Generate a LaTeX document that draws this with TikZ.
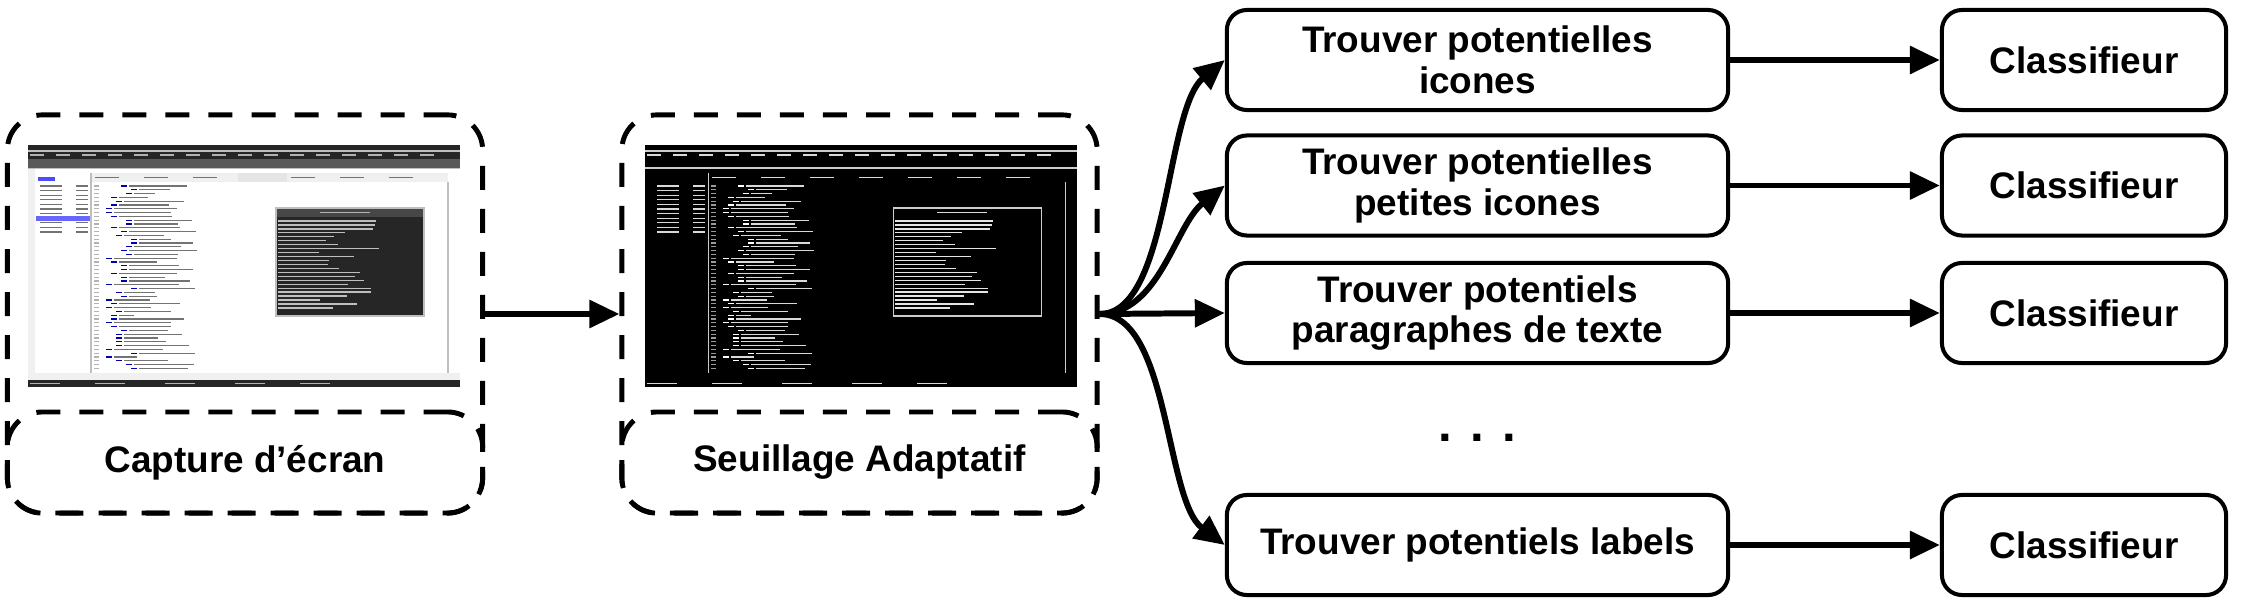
\documentclass[tikz,border=0pt]{standalone}
\usepackage{fontspec}
\setmainfont{Liberation Sans}
\usetikzlibrary{arrows.meta}

\tikzset{
  shotframe/.style={draw, line width=1.4pt, dash pattern=on 0.24cm off 0.19cm, rounded corners=0.35cm, minimum width=4.75cm},
  stepbox/.style={draw, line width=1.15pt, rounded corners=0.2cm, minimum height=1cm, align=center},
  arr/.style={-{Triangle[length=0.3cm,width=0.27cm]}, line width=1.7pt},
}

% screenshot mock-up, colours set with \colorlet before each call
\newcommand\mockscreen{%
  \fill[scrbg] (28,145) rectangle (460,387);
  \fill[scrbar] (28,145) rectangle (460,168);
  \fill[scrbar] (28,380) rectangle (460,387);
  \fill[scrside] (28,168) rectangle (35,373);
  \fill[scrside] (91,173) rectangle (448,182);
  \fill[scrside] (28,373) rectangle (460,380);
  \draw[scrrule] (28,168) -- (460,168) (91,173) -- (91,373) (448,182) -- (448,373) (28,151) -- (460,151);
  \foreach \x in {30,56,...,440} \draw[scrtab] (\x,155) -- ++(14,0);
  \foreach \x in {95,144,...,420} \draw[scrink] (\x,177.5) -- ++(24,0);
  \pgfmathsetseed{11}
  \foreach \k in {0,...,48}{
    \pgfmathsetmacro\codeind{5*random(0,5)}
    \pgfmathsetmacro\codelen{random(15,70)}
    \draw[scrnum] (94,186+3.8*\k) -- ++(5,0);
    \draw[scrkey] (106+\codeind,186+3.8*\k) -- ++(6,0);
    \draw[scrink] (114+\codeind,186+3.8*\k) -- ++(\codelen,0);
  }
  \foreach \k in {0,...,10} \draw[scrink] (40,186+4.6*\k) -- ++(22,0) (76,186+4.6*\k) -- ++(12,0);
  \fill[scrterm] (276,208) rectangle (424,316);
  \fill[scrtitle] (276,208) rectangle (424,217);
  \draw[scrrule] (276,208) rectangle (424,316);
  \draw[scrtab] (320,212.5) -- ++(50,0);
  \foreach \k in {0,...,22}{
    \pgfmathsetmacro\codelen{random(40,110)}
    \draw[scrtext] (278,221+3.95*\k) -- ++(\codelen,0);
  }
  \foreach \x in {30,95,165,235,300} \draw[scrtab] (\x,383.5) -- ++(30,0);
}

\begin{document}
\begin{tikzpicture}[x=0.01cm, y=-0.01cm, font=\bfseries\fontsize{10.5}{11.5}\selectfont]
  \useasboundingbox (0,0) rectangle (2251,606);

  % screenshot stages
  \node[shotframe, minimum height=3.98cm] (shot1) at (245,314) {};
  \node[shotframe, minimum height=1.01cm] (shotlab1) at (245,462.5) {Capture d’écran};
  \node[shotframe, minimum height=3.98cm] (shot2) at (859.5,314) {};
  \node[shotframe, minimum height=1.01cm] (shotlab2) at (859.5,462.5) {Seuillage Adaptatif};

  \begin{scope}[line width=0.35pt]
    \colorlet{scrbg}{white}\colorlet{scrbar}{black!85}\colorlet{scrside}{black!6}
    \colorlet{scrrule}{black!25}\colorlet{scrtab}{white!70!black}\colorlet{scrink}{black!55}
    \colorlet{scrkey}{blue!70!black}\colorlet{scrnum}{black!30}\colorlet{scrterm}{black!85}
    \colorlet{scrtitle}{black!72}\colorlet{scrtext}{white!75!black}
    \mockscreen
    \fill[black!65] (28,159) rectangle (460,168);
    \fill[blue!60] (36,216) rectangle (90,221);
    \fill[blue!70] (38,177) rectangle (55,181);
    \fill[black!10] (238,173) rectangle (287,182);
  \end{scope}
  \begin{scope}[xshift=6.17cm, line width=0.35pt]
    \colorlet{scrbg}{black}\colorlet{scrbar}{black}\colorlet{scrside}{black}
    \colorlet{scrrule}{white!80!black}\colorlet{scrtab}{white!85!black}\colorlet{scrink}{white!85!black}
    \colorlet{scrkey}{white}\colorlet{scrnum}{white!60!black}\colorlet{scrterm}{black}
    \colorlet{scrtitle}{black}\colorlet{scrtext}{white!90!black}
    \mockscreen
  \end{scope}

  % detection steps
  \node[stepbox, minimum width=5.01cm] (find1) at (1477.5,60) {Trouver potentielles\\icones};
  \node[stepbox, minimum width=5.01cm] (find2) at (1477.5,185.5) {Trouver potentielles\\petites icones};
  \node[stepbox, minimum width=5.01cm] (find3) at (1477.5,313) {Trouver potentiels\\paragraphes de texte};
  \node[anchor=base, font=\bfseries\fontsize{14}{16}\selectfont] (dots) at (1477,441) {. . .};
  \node[stepbox, minimum width=5.01cm] (find4) at (1477.5,545) {Trouver potentiels labels};

  \node[stepbox, minimum width=2.84cm] (cls1) at (2084,60) {Classifieur};
  \node[stepbox, minimum width=2.84cm] (cls2) at (2084,185.5) {Classifieur};
  \node[stepbox, minimum width=2.84cm] (cls3) at (2084,313) {Classifieur};
  \node[stepbox, minimum width=2.84cm] (cls4) at (2084,545) {Classifieur};

  \coordinate (fan) at (shot2.east);

  \draw[arr] (shot1) -- (shot2);
  \draw[arr] (fan) .. controls +(70,0) and +(-60,50) .. (find1.west);
  \draw[arr] (fan) .. controls +(60,0) and +(-50,40) .. (find2.west);
  \draw[arr] (fan) -- (find3.west);
  \draw[arr] (fan) .. controls +(70,0) and +(-60,-45) .. (find4.west);

  \draw[arr] (find1) -- (cls1);
  \draw[arr] (find2) -- (cls2);
  \draw[arr] (find3) -- (cls3);
  \draw[arr] (find4) -- (cls4);
\end{tikzpicture}
\end{document}
